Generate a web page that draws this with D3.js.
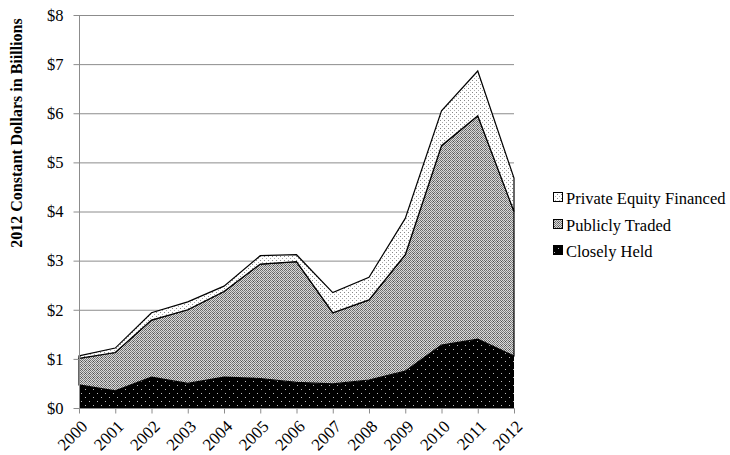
<!DOCTYPE html>
<html><head><meta charset="utf-8">
<script src="https://cdn.jsdelivr.net/npm/d3@7"></script>
<style>body{margin:0;background:#fff}svg{display:block}</style>
</head><body>
<svg id="c" width="730" height="455"></svg>
<script>
const years = ["2000","2001","2002","2003","2004","2005","2006","2007","2008","2009","2010","2011","2012"];
const closelyHeld = [0.47,0.35,0.63,0.50,0.63,0.60,0.52,0.49,0.57,0.75,1.28,1.40,1.06];
const publiclyTraded = [0.54,0.78,1.16,1.50,1.74,2.33,2.46,1.45,1.63,2.37,4.06,4.55,2.94];
const privateEquity = [0.05,0.09,0.15,0.16,0.11,0.17,0.14,0.41,0.46,0.74,0.71,0.91,0.68];
const seriesNames = ["Closely Held","Publicly Traded","Private Equity Financed"];
const yTicks = [0,1,2,3,4,5,6,7,8];

const svg = d3.select("#c");
const font = "'Liberation Serif', 'DejaVu Serif', serif";
const x = d3.scalePoint().domain(years).range([79,514]);
const y = d3.scaleLinear().domain([0,8]).range([408,15]);

const defs = svg.append("defs");
// Closely held: black with white dots
let p = defs.append("pattern").attr("id","pClosely").attr("patternUnits","userSpaceOnUse").attr("width",8).attr("height",8);
p.append("rect").attr("width",8).attr("height",8).attr("fill","#000");
p.append("rect").attr("x",1).attr("y",1).attr("width",1).attr("height",1).attr("fill","#bbb");
p.append("rect").attr("x",5).attr("y",5).attr("width",1).attr("height",1).attr("fill","#bbb");
// Publicly traded: gray checker
p = defs.append("pattern").attr("id","pPublic").attr("patternUnits","userSpaceOnUse").attr("width",4).attr("height",4);
p.append("rect").attr("width",4).attr("height",4).attr("fill","#dadada");
[[0,0],[2,0],[1,1],[3,1],[0,2],[2,2],[1,3],[3,3]].forEach(([a,b])=>{
  p.append("rect").attr("x",a).attr("y",b).attr("width",1).attr("height",1).attr("fill", (a%2===0)?"#6e6e6e":"#828282");
});
p.append("rect").attr("x",1).attr("y",1).attr("width",1).attr("height",1).attr("fill","#4a4a4a");
// Private equity: white with gray dots
p = defs.append("pattern").attr("id","pPrivate").attr("patternUnits","userSpaceOnUse").attr("width",4).attr("height",4);
p.append("rect").attr("width",4).attr("height",4).attr("fill","#fff");
p.append("rect").attr("x",0).attr("y",0).attr("width",1).attr("height",1).attr("fill","#888");
p.append("rect").attr("x",2).attr("y",2).attr("width",1).attr("height",1).attr("fill","#aaa");

const fills = ["url(#pClosely)","url(#pPublic)","url(#pPrivate)"];

// gridlines
svg.append("g").selectAll("line").data(yTicks.slice(1)).join("line")
  .attr("x1",79).attr("x2",514).attr("y1",d=>y(d)+0.5).attr("y2",d=>y(d)+0.5)
  .attr("stroke","#8c8c8c").attr("stroke-width",1);

// data stack
const table = years.map((yr,i)=>({year:yr, "Closely Held":closelyHeld[i], "Publicly Traded":publiclyTraded[i], "Private Equity Financed":privateEquity[i]}));
const stack = d3.stack().keys(seriesNames)(table);
const area = d3.area().x(d=>x(d.data.year)).y0(d=>y(d[0])).y1(d=>y(d[1]));
svg.append("g").selectAll("path").data(stack).join("path")
  .attr("d",area).attr("fill",(d,i)=>fills[i])
  .attr("stroke",(d,i)=> i===0 ? "none" : "#000").attr("stroke-width",1.2).attr("stroke-linejoin","miter");

// axes
const yAxis = svg.append("g").attr("transform","translate(79.5,0)")
  .call(d3.axisLeft(y).tickValues(yTicks).tickFormat(d=>"$"+d).tickSize(6).tickPadding(10));
yAxis.select(".domain").attr("stroke","#8c8c8c").attr("d","M0,"+(y(8))+"V"+y(0));
yAxis.selectAll(".tick line").attr("stroke","#8c8c8c");
yAxis.selectAll("text").attr("font-family",font).attr("font-size",16.5).attr("fill","#000");

const xAxis = svg.append("g").attr("transform","translate(0,408.5)")
  .call(d3.axisBottom(x).tickSize(5).tickSizeOuter(0));
xAxis.select(".domain").attr("stroke","#8c8c8c").attr("d","M79,0H514.5");
xAxis.selectAll(".tick line").attr("stroke","#8c8c8c");
xAxis.selectAll("text").attr("font-family",font).attr("font-size",17).attr("fill","#000")
  .attr("text-anchor","end").attr("dy",0).attr("y",0)
  .attr("transform","translate(9,19) rotate(-45)");

// y label
svg.append("text").attr("transform","translate(22,133) rotate(-90)")
  .attr("text-anchor","middle").attr("font-family",font).attr("font-weight","bold")
  .attr("font-size",16).text("2012 Constant Dollars in Biillions");

// legend
const legendItems = [
  {name:"Private Equity Financed", fill:fills[2], yy:198},
  {name:"Publicly Traded", fill:fills[1], yy:225},
  {name:"Closely Held", fill:fills[0], yy:251}
];
const lg = svg.append("g").selectAll("g").data(legendItems).join("g")
  .attr("transform",d=>`translate(553,${d.yy})`);
lg.append("rect").attr("x",0.5).attr("y",-5.5).attr("width",9).attr("height",9)
  .attr("fill",d=>d.fill).attr("stroke","#000").attr("stroke-width",1);
lg.append("text").attr("x",13).attr("y",0).attr("dy","0.35em")
  .attr("font-family",font).attr("font-size",16.5).text(d=>d.name);
</script>
</body></html>
